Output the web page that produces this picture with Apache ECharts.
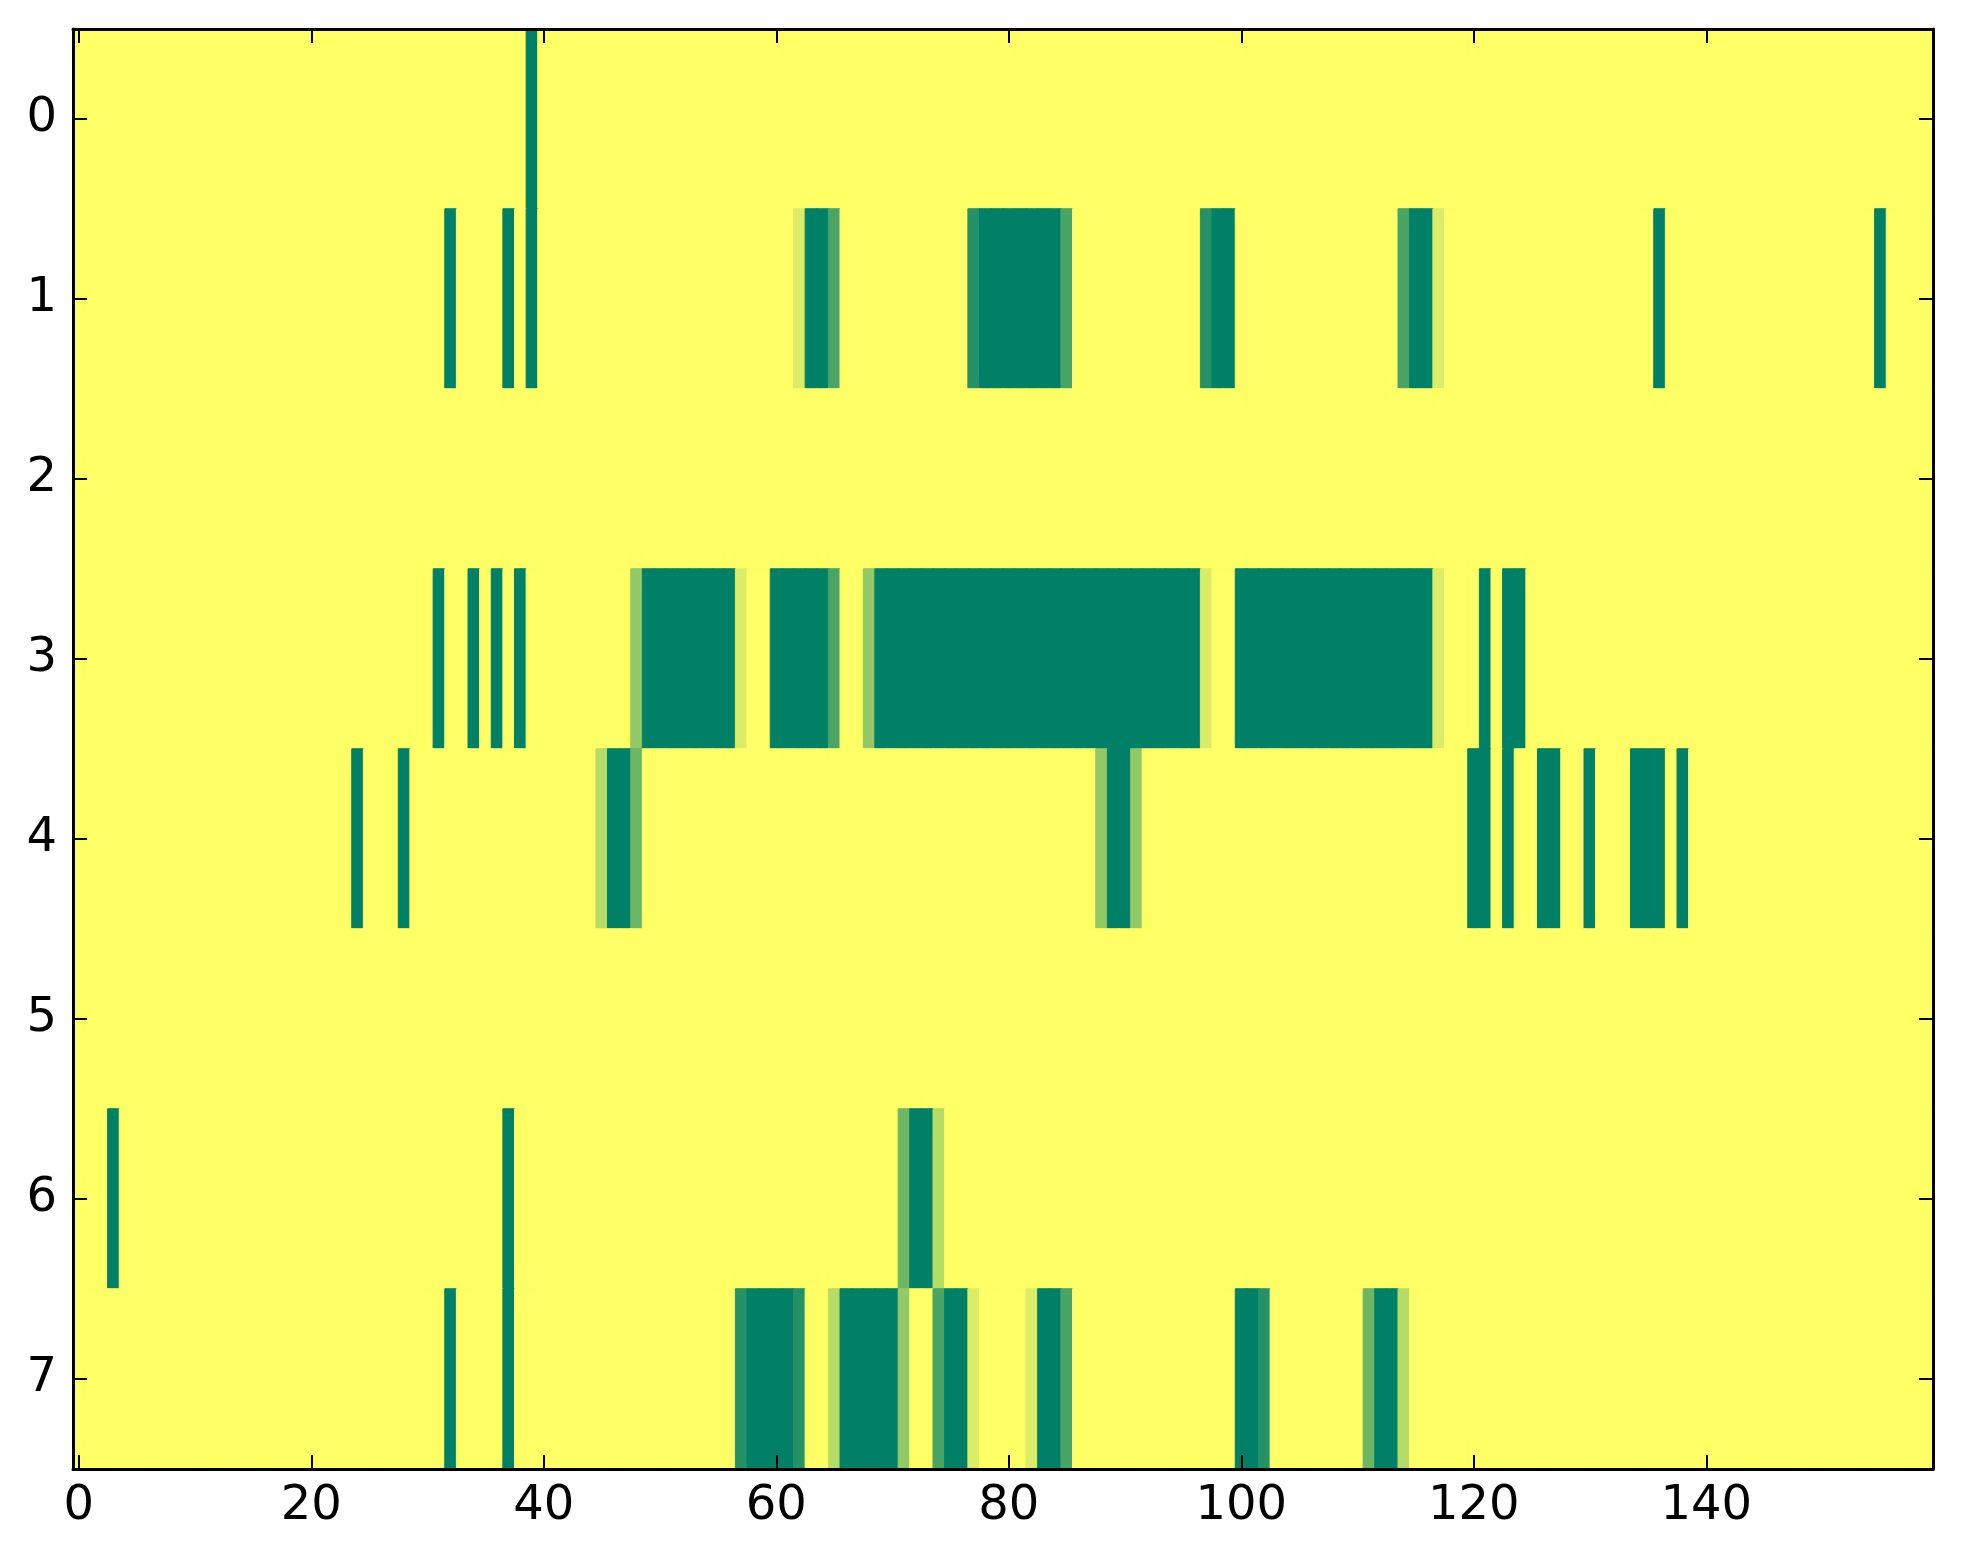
<!DOCTYPE html>
<html>
<head>
<meta charset="utf-8">
<script src="https://cdn.jsdelivr.net/npm/echarts@6/dist/echarts.min.js"></script>
<style>
html,body{margin:0;padding:0;background:#fff;}
#chart{width:1963px;height:1564px;}
</style>
</head>
<body>
<div id="chart"></div>
<script>
// Column categories 0..159 and row categories 0..7
const nCols = 160;
const colLabels = Array.from({length: nCols}, (_, i) => String(i));
const rowLabels = ['0','1','2','3','4','5','6','7'];

// Non-background cells per row as runs: [fromCol, toCol, level] (level 0..7, background = 0)
const row0 = [[39,39,7]];
const row1 = [[32,32,7],[37,37,7],[39,39,7],[62,62,1],[63,64,7],[65,65,5],[77,77,6],[78,84,7],[85,85,5],
              [97,97,6],[98,99,7],[114,114,5],[115,116,7],[117,117,1],[136,136,7],[155,155,7]];
const row2 = [];
const row3 = [[31,31,7],[34,34,7],[36,36,7],[38,38,7],[48,48,3],[49,56,7],[57,57,1],[60,64,7],[65,65,5],
              [68,68,3],[69,96,7],[97,97,1],[100,116,7],[117,117,1],[121,121,7],[123,124,7]];
const row4 = [[24,24,7],[28,28,7],[45,45,2],[46,47,7],[48,48,4],[88,88,3],[89,90,7],[91,91,3],
              [120,121,7],[123,123,7],[126,127,7],[130,130,7],[134,136,7],[138,138,7]];
const row5 = [];
const row6 = [[3,3,7],[37,37,7],[71,71,4],[72,73,7],[74,74,2]];
const row7 = [[32,32,7],[37,37,7],[57,57,6],[58,61,7],[62,62,6],[65,65,2],[66,70,7],[71,71,3],[74,74,5],
              [75,76,7],[77,77,1],[82,82,1],[83,84,7],[85,85,5],[100,101,7],[102,102,6],[111,111,4],
              [112,113,7],[114,114,2]];
const rows = [row0,row1,row2,row3,row4,row5,row6,row7];
const xTickLabels = ['0','20','40','60','80','100','120','140'];
const levelMax = 7;
const colorRange = ['#ffff66', '#008066'];

// Build heatmap table (colour from the library's colour interpolation)
const data = [];
rows.forEach((runs, r) => {
  const vals = new Array(nCols).fill(0);
  runs.forEach(([a, b, v]) => { for (let c = a; c <= b; c++) vals[c] = v; });
  vals.forEach((v, c) => {
    const col = echarts.color.lerp(v / levelMax, colorRange);
    data.push({value: [c, r, v], itemStyle: {color: col, borderColor: col, borderWidth: 1}});
  });
});

const font = 'DejaVu Sans';
const lineStyle = {color: '#000', width: 3};
const tickStyle = {color: '#000', width: 2};

const chart = echarts.init(document.getElementById('chart'), null, {renderer: 'canvas'});
chart.setOption({
  backgroundColor: '#ffffff',
  animation: false,
  grid: {left: 73, top: 29, right: 30, bottom: 95, containLabel: false, show: false},
  xAxis: [{
    type: 'category', data: colLabels, position: 'bottom', z: 10,
    axisLine: {show: true, lineStyle: lineStyle},
    axisTick: {show: true, inside: true, length: 14, interval: 19, alignWithLabel: true, lineStyle: tickStyle},
    axisLabel: {show: true, interval: 19, margin: 14, color: '#000', fontFamily: font, fontSize: 48,
      formatter: v => xTickLabels.includes(v) ? v : ''},
    splitLine: {show: false}
  }, {
    type: 'category', data: colLabels, position: 'top', z: 10,
    axisLine: {show: true, lineStyle: lineStyle},
    axisTick: {show: true, inside: true, length: 14, interval: 19, alignWithLabel: true, lineStyle: tickStyle},
    axisLabel: {show: false},
    splitLine: {show: false}
  }],
  yAxis: [{
    type: 'category', data: rowLabels, inverse: true, position: 'left', z: 10,
    axisLine: {show: true, lineStyle: lineStyle},
    axisTick: {show: true, inside: true, length: 14, alignWithLabel: true, lineStyle: tickStyle},
    axisLabel: {show: true, margin: 16, color: '#000', fontFamily: font, fontSize: 48},
    splitLine: {show: false}
  }, {
    type: 'category', data: rowLabels, inverse: true, position: 'right', z: 10,
    axisLine: {show: true, lineStyle: lineStyle},
    axisTick: {show: true, inside: true, length: 14, alignWithLabel: true, lineStyle: tickStyle},
    axisLabel: {show: false},
    splitLine: {show: false}
  }],
  series: [{
    type: 'heatmap', xAxisIndex: 0, yAxisIndex: 0, data: data,
    emphasis: {disabled: true},
    progressive: 0
  }]
});
</script>
</body>
</html>
